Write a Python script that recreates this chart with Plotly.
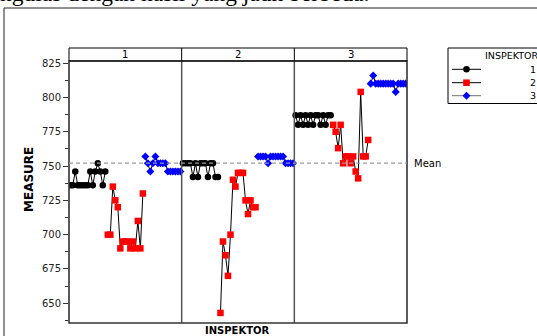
import plotly.graph_objects as go

# ---- data -----------------------------------------------------------------
parts = ["1", "2", "3"]
inspectors = ["1", "2", "3"]
n_trials = 15

# MEASURE readings, 15 repeats per inspector for each part
insp1_part1 = [736, 736, 746, 736, 736, 736, 736, 736, 746, 736, 746, 752, 746, 736, 746]
insp1_part2 = [752, 752, 752, 752, 742, 752, 742, 752, 752, 752, 742, 752, 752, 742, 742]
insp1_part3 = [787, 780, 787, 780, 787, 780, 787, 780, 787, 787, 780, 787, 780, 787, 787]

insp2_part1 = [700, 700, 735, 725, 720, 690, 695, 695, 695, 690, 695, 690, 710, 690, 730]
insp2_part2 = [643, 695, 685, 670, 700, 740, 735, 745, 745, 745, 725, 715, 725, 720, 720]
insp2_part3 = [780, 775, 763, 780, 752, 757, 757, 752, 757, 746, 741, 804, 757, 757, 769]

insp3_part1 = [757, 752, 746, 752, 757, 752, 752, 752, 752, 746, 746, 746, 746, 746, 746]
insp3_part2 = [757, 757, 757, 757, 752, 757, 757, 757, 757, 757, 757, 752, 752, 752, 752]
insp3_part3 = [810, 816, 810, 810, 810, 810, 810, 810, 810, 810, 804, 810, 810, 810, 810]

y_ticks = [650, 675, 700, 725, 750, 775, 800, 825]

readings = {
    "1": [insp1_part1, insp1_part2, insp1_part3],
    "2": [insp2_part1, insp2_part2, insp2_part3],
    "3": [insp3_part1, insp3_part2, insp3_part3],
}

# ---- geometry -------------------------------------------------------------
W, H = 537, 336
ML, MR, MT, MB = 69, 130, 61, 13
PW, PH = W - ML - MR, H - MT - MB
per_panel = len(inspectors) * n_trials
x_max = per_panel * len(parts)


def px(X):
    return (X - ML) / PW


def py(Y):
    return (H - MB - Y) / PH


styles = {
    "1": dict(symbol="circle", size=6.5, color="#000000"),
    "2": dict(symbol="square", size=6.5, color="#FF0000"),
    "3": dict(symbol="diamond", size=6.2, color="#0000FF"),
}

fig = go.Figure()

for k, insp in enumerate(inspectors):
    xs, ys = [], []
    for p, vals in enumerate(readings[insp]):
        xs += [per_panel * p + n_trials * k + j + 0.5 for j in range(len(vals))] + [None]
        ys += list(vals) + [None]
    st = styles[insp]
    fig.add_trace(go.Scatter(
        x=xs, y=ys, mode="lines+markers", name=insp, connectgaps=False,
        line=dict(color="#000000", width=1),
        marker=dict(symbol=st["symbol"], size=st["size"], color=st["color"],
                    line=dict(width=0)),
        showlegend=False,
    ))

all_vals = [v for lst in readings.values() for part in lst for v in part]
grand_mean = sum(all_vals) / len(all_vals)

shapes = []
# panel dividers
for p in range(1, len(parts)):
    shapes.append(dict(type="line", xref="x", yref="paper", x0=per_panel * p, x1=per_panel * p,
                       y0=0, y1=1, line=dict(color="#555555", width=1.5)))
    shapes.append(dict(type="line", xref="x", yref="paper", x0=per_panel * p, x1=per_panel * p,
                       y0=1, y1=py(48), line=dict(color="#000000", width=1)))
# plot frame
shapes.append(dict(type="rect", xref="paper", yref="paper", x0=0, x1=1, y0=0, y1=1,
                   line=dict(color="#333333", width=1.6)))
# panel header strip
shapes.append(dict(type="rect", xref="paper", yref="paper", x0=0, x1=1, y0=1, y1=py(48),
                   line=dict(color="#000000", width=1)))
# grand mean reference line
shapes.append(dict(type="line", xref="paper", yref="y", x0=0, x1=1, y0=grand_mean, y1=grand_mean,
                   line=dict(color="#9a9a9a", width=1.2, dash="4px,3px")))
# page frame
shapes.append(dict(type="line", xref="paper", yref="paper", x0=px(4), x1=px(4), y0=py(8), y1=py(400),
                   line=dict(color="#222222", width=1)))
shapes.append(dict(type="line", xref="paper", yref="paper", x0=px(4), x1=px(700), y0=py(8), y1=py(8),
                   line=dict(color="#222222", width=1)))

# legend box and keys
shapes.append(dict(type="rect", xref="paper", yref="paper", x0=px(448), x1=px(620),
                   y0=py(48), y1=py(103.5), line=dict(color="#000000", width=1)))
rows = [69.3, 82.7, 95.7]
key_line_colors = ["#000000", "#000000", "#707070"]
for insp, yr, lc in zip(inspectors, rows, key_line_colors):
    shapes.append(dict(type="line", xref="paper", yref="paper", x0=px(452), x1=px(481),
                       y0=py(yr), y1=py(yr), line=dict(color=lc, width=1)))
cx = 466.5
shapes.append(dict(type="circle", xref="paper", yref="paper", x0=px(cx - 3.3), x1=px(cx + 3.3),
                   y0=py(rows[0] + 3.3), y1=py(rows[0] - 3.3), fillcolor="#000000",
                   line=dict(width=0)))
shapes.append(dict(type="rect", xref="paper", yref="paper", x0=px(cx - 3.3), x1=px(cx + 3.3),
                   y0=py(rows[1] + 3.3), y1=py(rows[1] - 3.3), fillcolor="#FF0000",
                   line=dict(width=0)))
d = 4.0
shapes.append(dict(type="path", xref="paper", yref="paper",
                   path="M{:.5f},{:.5f} L{:.5f},{:.5f} L{:.5f},{:.5f} L{:.5f},{:.5f} Z".format(
                       px(cx), py(rows[2] - d), px(cx + d), py(rows[2]),
                       px(cx), py(rows[2] + d), px(cx - d), py(rows[2])),
                   fillcolor="#0000FF", line=dict(width=0)))

font = "DejaVu Sans"
annotations = []
for p, lab in enumerate(parts):
    annotations.append(dict(text=lab, xref="x", yref="paper", x=per_panel * p + per_panel / 2,
                            y=py(54.5), showarrow=False, xanchor="center", yanchor="middle",
                            font=dict(family=font, size=10, color="#000000")))
annotations.append(dict(text="Mean", xref="paper", yref="y", x=px(412), y=grand_mean,
                        showarrow=False, xanchor="left", yanchor="middle",
                        font=dict(family=font, size=10, color="#000000")))
annotations.append(dict(text="MEASURE", xref="paper", yref="paper", x=px(29), y=py(180),
                        textangle=-90, showarrow=False, xanchor="center", yanchor="middle",
                        font=dict(family=font, size=12, color="#000000", weight="bold")))
annotations.append(dict(text="INSPEKTOR", xref="paper", yref="paper", x=px(237.5), y=py(330),
                        showarrow=False, xanchor="center", yanchor="middle",
                        font=dict(family=font, size=10, color="#000000", weight="bold")))
annotations.append(dict(text="INSPEKTOR", xref="paper", yref="paper", x=px(483), y=py(55.7),
                        showarrow=False, xanchor="left", yanchor="middle",
                        font=dict(family=font, size=9.5, color="#000000")))
for insp, yr in zip(inspectors, rows):
    annotations.append(dict(text=insp, xref="paper", yref="paper", x=px(528), y=py(yr),
                            showarrow=False, xanchor="left", yanchor="middle",
                            font=dict(family=font, size=9.5, color="#000000")))
# running text of the page above the figure
annotations.append(dict(text="ngulas dengan hasil yang jauh berbeda.", xref="paper", yref="paper",
                        x=px(-2), y=py(8), showarrow=False, xanchor="left", yanchor="bottom",
                        font=dict(family="Liberation Serif", size=23.5, color="#000000")))

fig.update_layout(
    width=W, height=H, autosize=False,
    margin=dict(l=ML, r=MR, t=MT, b=MB, pad=0),
    paper_bgcolor="#ffffff", plot_bgcolor="#ffffff",
    showlegend=False,
    shapes=shapes, annotations=annotations,
    font=dict(family=font, size=10, color="#000000"),
    xaxis=dict(range=[0, x_max], showticklabels=False, ticks="", showgrid=False,
               zeroline=False, showline=False, fixedrange=True),
    yaxis=dict(range=[635.65, 826.5], tickmode="array", tickvals=y_ticks,
               ticktext=[str(v) for v in y_ticks], ticks="outside", ticklen=5,
               tickwidth=1, tickcolor="#333333", showgrid=False, zeroline=False,
               showline=False, tickfont=dict(family=font, size=10, color="#222222"),
               minor=dict(tickvals=[v + 12.5 for v in [625] + y_ticks[:-1]],
                          ticks="outside", ticklen=3, tickcolor="#333333", tickwidth=1),
               fixedrange=True),
)

fig.write_html("out.html")
